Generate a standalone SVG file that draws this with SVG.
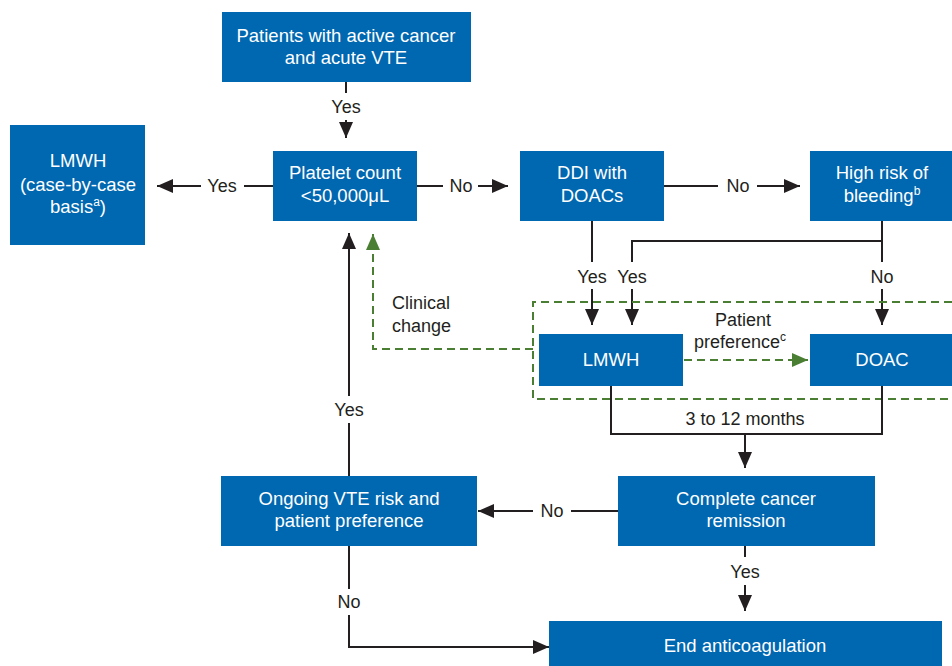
<svg xmlns="http://www.w3.org/2000/svg" width="952" height="666" viewBox="0 0 952 666">
<style>
.box{fill:#0067b1}
.bt{font-family:"Liberation Sans",Arial,sans-serif;font-size:18.5px;fill:#ffffff;text-anchor:middle}
.lb{font-family:"Liberation Sans",Arial,sans-serif;font-size:18px;fill:#231f20;text-anchor:middle}
.ln{stroke:#231f20;stroke-width:2;fill:none}
.gd{stroke:#4a7f33;stroke-width:2;fill:none;stroke-dasharray:8,5}
.sup{font-size:12px}
</style>
<defs>
<marker id="ah" markerUnits="userSpaceOnUse" markerWidth="16" markerHeight="14" refX="16" refY="7" orient="auto">
<path d="M0,0 L16,7 L0,14 z" fill="#231f20"/>
</marker>
<marker id="ag" markerUnits="userSpaceOnUse" markerWidth="16" markerHeight="14" refX="16" refY="7" orient="auto">
<path d="M0,0 L16,7 L0,14 z" fill="#4a7f33"/>
</marker>
</defs>

<g id="connectors">
<line class="ln" x1="346" y1="82" x2="346" y2="93"/>
<text class="lb" x="346" y="113">Yes</text>
<line class="ln" x1="346" y1="120" x2="346" y2="138" marker-end="url(#ah)"/>
<line class="ln" x1="273" y1="186" x2="244" y2="186"/>
<text class="lb" x="222" y="192">Yes</text>
<line class="ln" x1="201" y1="186" x2="157" y2="186" marker-end="url(#ah)"/>
<line class="ln" x1="417" y1="186" x2="443" y2="186"/>
<text class="lb" x="461" y="192">No</text>
<line class="ln" x1="478" y1="186" x2="508" y2="186" marker-end="url(#ah)"/>
<line class="ln" x1="664" y1="186" x2="718" y2="186"/>
<text class="lb" x="738" y="192">No</text>
<line class="ln" x1="757" y1="186" x2="800" y2="186" marker-end="url(#ah)"/>
<line class="ln" x1="592" y1="221" x2="592" y2="262"/>
<text class="lb" x="592" y="283">Yes</text>
<line class="ln" x1="592" y1="289" x2="592" y2="325" marker-end="url(#ah)"/>
<polyline class="ln" points="882,241 632,241 632,262"/>
<text class="lb" x="632" y="283">Yes</text>
<line class="ln" x1="632" y1="289" x2="632" y2="325" marker-end="url(#ah)"/>
<line class="ln" x1="882" y1="221" x2="882" y2="262"/>
<text class="lb" x="882" y="283">No</text>
<line class="ln" x1="882" y1="289" x2="882" y2="325" marker-end="url(#ah)"/>
<polyline class="gd" points="952,302 533,302 533,399 952,399"/>
<line class="gd" x1="684" y1="360" x2="808" y2="360" marker-end="url(#ag)"/>
<text class="lb" x="743" y="326">Patient</text>
<text class="lb" x="740" y="348">preference<tspan class="sup" dy="-7">c</tspan></text>
<polyline class="gd" points="533,349 373,349 373,234" marker-end="url(#ag)"/>
<text class="lb" x="392" y="309" style="text-anchor:start">Clinical</text>
<text class="lb" x="392" y="332" style="text-anchor:start">change</text>
<polyline class="ln" points="611,386 611,434 882,434 882,386"/>
<text class="lb" x="745" y="425">3 to 12 months</text>
<line class="ln" x1="745" y1="434" x2="745" y2="468" marker-end="url(#ah)"/>
<line class="ln" x1="618" y1="511" x2="571" y2="511"/>
<text class="lb" x="552" y="517">No</text>
<line class="ln" x1="533" y1="511" x2="478" y2="511" marker-end="url(#ah)"/>
<line class="ln" x1="745" y1="546" x2="745" y2="557"/>
<text class="lb" x="745" y="578">Yes</text>
<line class="ln" x1="745" y1="585" x2="745" y2="611" marker-end="url(#ah)"/>
<line class="ln" x1="349" y1="476" x2="349" y2="423"/>
<text class="lb" x="349" y="416">Yes</text>
<line class="ln" x1="349" y1="396" x2="349" y2="233" marker-end="url(#ah)"/>
<line class="ln" x1="349" y1="546" x2="349" y2="589"/>
<text class="lb" x="349" y="608">No</text>
<polyline class="ln" points="349,615 349,647 549,647" marker-end="url(#ah)"/>
</g>

<g id="n-start">
<rect class="box" x="222" y="12" width="249" height="70"/>
<text class="bt" x="346" y="42">Patients with active cancer</text>
<text class="bt" x="346" y="64">and acute VTE</text>
</g>
<g id="n-platelet">
<rect class="box" x="273" y="151" width="144" height="70"/>
<text class="bt" x="345" y="179">Platelet count</text>
<text class="bt" x="345" y="202">&lt;50,000μL</text>
</g>
<g id="n-lmwh-case">
<rect class="box" x="10" y="125" width="135" height="120"/>
<text class="bt" x="78" y="167">LMWH</text>
<text class="bt" x="78" y="191">(case-by-case</text>
<text class="bt" x="78" y="213">basis<tspan class="sup" dy="-7">a</tspan><tspan dy="7">)</tspan></text>
</g>
<g id="n-ddi">
<rect class="box" x="520" y="151" width="144" height="70"/>
<text class="bt" x="592" y="179">DDI with</text>
<text class="bt" x="592" y="202">DOACs</text>
</g>
<g id="n-bleeding">
<rect class="box" x="810" y="151" width="142" height="70"/>
<text class="bt" x="882" y="179">High risk of</text>
<text class="bt" x="882" y="202">bleeding<tspan class="sup" dy="-7">b</tspan></text>
</g>
<g id="n-lmwh">
<rect class="box" x="539" y="334" width="144" height="52"/>
<text class="bt" x="611" y="366">LMWH</text>
</g>
<g id="n-doac">
<rect class="box" x="810" y="334" width="142" height="52"/>
<text class="bt" x="882" y="366">DOAC</text>
</g>
<g id="n-ongoing">
<rect class="box" x="221" y="476" width="256" height="70"/>
<text class="bt" x="349" y="505">Ongoing VTE risk and</text>
<text class="bt" x="349" y="527">patient preference</text>
</g>
<g id="n-remission">
<rect class="box" x="618" y="476" width="257" height="70"/>
<text class="bt" x="746" y="505">Complete cancer</text>
<text class="bt" x="746" y="527">remission</text>
</g>
<g id="n-end">
<rect class="box" x="549" y="621" width="393" height="50"/>
<text class="bt" x="745" y="652">End anticoagulation</text>
</g>
</svg>
